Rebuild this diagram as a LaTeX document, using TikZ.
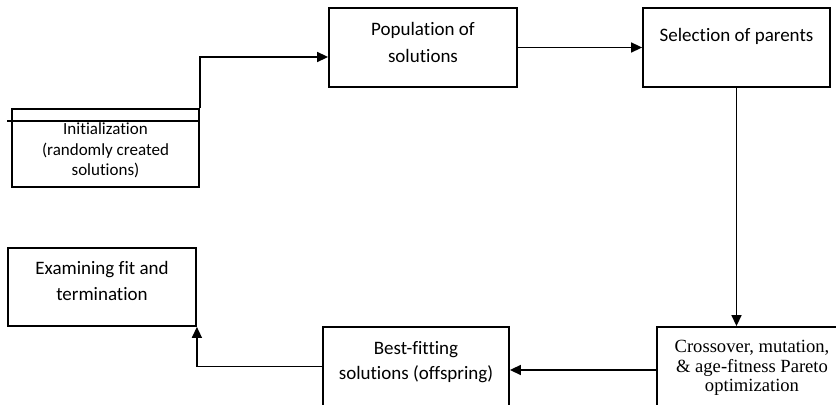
\documentclass[tikz,border=0pt]{standalone}
\usepackage{fontspec}
\setmainfont{Carlito}[Ligatures=CommonOff]
\newfontfamily\timesfont{Liberation Serif}
\usetikzlibrary{arrows.meta, positioning}
\tikzset{
  flow box/.style={
    draw, rectangle, line width=0.9pt,  % box outline
    align=center, inner sep=2pt,
    minimum width=94pt, minimum height=39.5pt,
    font=\fontsize{9.5}{13.5}\selectfont
  }
}
\tikzset{
  flow arrow/.style={
    -{Triangle[length=5.5pt,width=5pt]}, % filled arrow tip
    line width=0.75pt
  },
  plain line/.style={line width=0.75pt}
}

\begin{document}
\begin{tikzpicture}[x=0.5pt, y=-0.5pt]
    % Page frame
    \useasboundingbox (0,0) rectangle (836,405);
    \clip (0,0) rectangle (836,405);

    % Boxes
    \node[flow box, minimum width=93.5pt, minimum height=39pt,
          text height=31.5pt, text depth=3.5pt,
          font=\fontsize{8.5}{10.25}\selectfont] (init) at (105.5,148)
          {Initialization\\(randomly created\\solutions)};
    \node[flow box, text height=25.5pt, text depth=10pt] (pop) at (423,47.5)
          {Population of\\solutions};
    \node[flow box, minimum width=93.5pt, text height=15pt, text depth=20.5pt] (sel) at (736.5,47.5)
          {Selection of parents};
    \node[flow box, minimum width=95pt, text height=30.5pt, text depth=5pt,
          font=\timesfont\fontsize{9.3}{9.75}\selectfont] (cross) at (752,366.5)
          {Crossover, mutation,\\\& age-fitness Pareto\\optimization};
    \node[flow box, minimum width=93pt, text height=24.5pt, text depth=11pt,
          font=\fontsize{9.5}{12.5}\selectfont] (best) at (416,366.5)
          {Best-fitting\\solutions (offspring)};
    \node[flow box, minimum height=39pt, text height=24.5pt, text depth=10.5pt,
          font=\fontsize{9.5}{13}\selectfont] (exam) at (102,287)
          {Examining fit and\\termination};

    % Connectors
    \coordinate (stray) at (7,121);
    \draw[plain line] (stray) -- (stray -| init.east);
    \draw[flow arrow] (init.north east) |- ([yshift=-4.75pt]pop.west);
    \draw[flow arrow] (pop) -- (sel);
    \draw[flow arrow] (sel.south) -- (sel.south |- cross.north);
    \draw[flow arrow] ([yshift=-1.75pt]cross.west) -- ([yshift=-1.75pt]best.east);
    \draw[flow arrow] (best.west) -| (exam.south east);
\end{tikzpicture}
\end{document}
